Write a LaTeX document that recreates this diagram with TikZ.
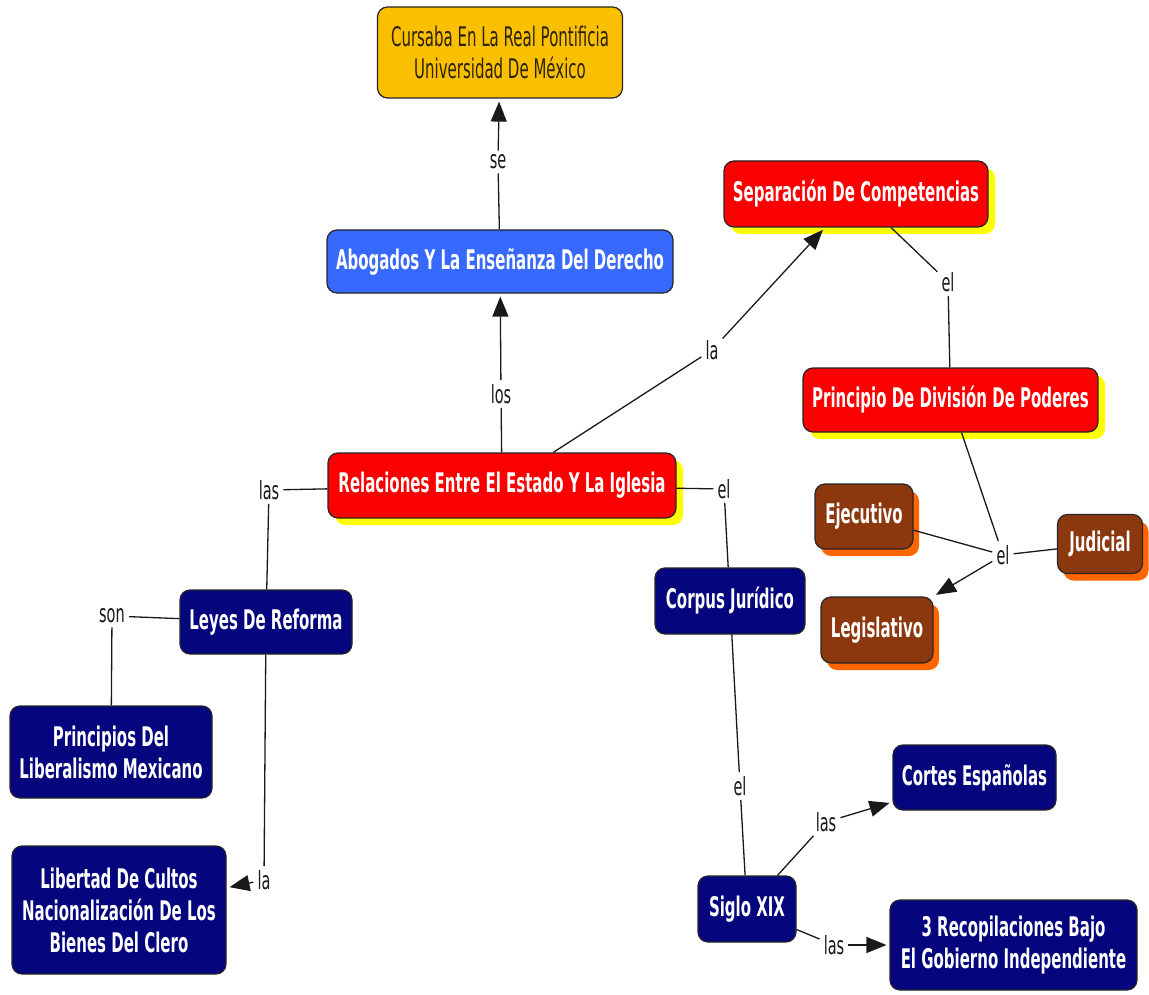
\documentclass[tikz,border=0pt]{standalone}
\usepackage{fontspec}
\newfontfamily\nfont{DejaVu Sans}[FakeStretch=0.555]
\newfontfamily\lfont{DejaVu Sans}[FakeStretch=0.58]
\usetikzlibrary{shadows,arrows.meta}
\definecolor{cgold}{RGB}{250,192,0}
\definecolor{cblue}{RGB}{55,105,255}
\definecolor{cred}{RGB}{250,0,0}
\definecolor{cyel}{RGB}{255,255,0}
\definecolor{cnavy}{RGB}{5,5,125}
\definecolor{cbrown}{RGB}{140,56,14}
\definecolor{corange}{RGB}{255,102,0}
\definecolor{cdark}{RGB}{45,35,10}
\begin{document}
\begin{tikzpicture}[x=1pt,y=-1pt,
  cbox/.style={rounded corners=10pt, draw=black!85, line width=1.2pt, align=center,
    font=\nfont\bfseries\fontsize{27}{32}\selectfont, text=white, inner sep=0pt},
  goldbox/.style={cbox, fill=cgold, text=cdark, font=\nfont\fontsize{27}{32}\selectfont},
  bluebox/.style={cbox, fill=cblue},
  navybox/.style={cbox, fill=cnavy},
  redbox/.style={cbox, fill=cred, drop shadow={shadow xshift=7pt, shadow yshift=-7pt, fill=cyel, opacity=1}},
  brownbox/.style={cbox, fill=cbrown, drop shadow={shadow xshift=6pt, shadow yshift=-7pt, fill=corange, opacity=1}},
  lab/.style={font=\lfont\fontsize{25}{27}\selectfont, inner sep=4pt, text=black!90},
  ln/.style={line width=1.3pt, draw=black!90},
  arr/.style={ln, -{Triangle[length=20pt,width=16pt]}, shorten >=3pt}]
\useasboundingbox[fill=white] (0,0) rectangle (1149,995);
% concepts
\node[goldbox, minimum width=245pt, minimum height=91pt] (cur) at (500,52.5) {Cursaba En La Real Pontificia\\Universidad De México};
\node[bluebox, minimum width=346pt, minimum height=63pt] (abo) at (500,261.5) {Abogados Y La Enseñanza Del Derecho};
\node[redbox, minimum width=264pt, minimum height=66pt] (sep) at (856,194) {Separación De Competencias};
\node[redbox, minimum width=295pt, minimum height=64pt] (pdp) at (950.5,400) {Principio De División De Poderes};
\node[redbox, minimum width=348pt, minimum height=65pt] (rel) at (502,485.5) {Relaciones Entre El Estado Y La Iglesia};
\node[brownbox, minimum width=98pt, minimum height=65pt] (eje) at (864,516.5) {Ejecutivo};
\node[brownbox, minimum width=85pt, minimum height=59pt] (jud) at (1100,544) {Judicial};
\node[brownbox, minimum width=112pt, minimum height=66pt] (leg) at (877,630) {Legislativo};
\node[navybox, minimum width=150pt, minimum height=66pt] (cor) at (730,601) {Corpus Jurídico};
\node[navybox, minimum width=172pt, minimum height=64pt] (ley) at (266,622) {Leyes De Reforma};
\node[navybox, minimum width=202pt, minimum height=92pt] (pri) at (111,752) {Principios Del\\Liberalismo Mexicano};
\node[navybox, minimum width=214pt, minimum height=128pt] (lib) at (119,910) {Libertad De Cultos\\Nacionalización De Los\\Bienes Del Clero};
\node[navybox, minimum width=98pt, minimum height=66pt] (sig) at (747,909) {Siglo XIX};
\node[navybox, minimum width=163pt, minimum height=65pt] (cortes) at (974.5,777.5) {Cortes Españolas};
\node[navybox, minimum width=247pt, minimum height=90pt] (rec) at (1013.5,945) {3 Recopilaciones Bajo\\El Gobierno Independiente};
% linking phrases
\node[lab] (se) at (498,162) {se};
\node[lab] (los) at (501,394) {los};
\node[lab] (la1) at (712,350) {la};
\node[lab] (el1) at (948,282) {el};
\node[lab] (el2) at (1003,555) {el};
\node[lab] (el3) at (724,489) {el};
\node[lab] (las1) at (269,490) {las};
\node[lab] (son) at (112,616) {son};
\node[lab] (la2) at (264,880) {la};
\node[lab] (el4) at (740,786) {el};
\node[lab] (las2) at (826,822) {las};
\node[lab] (las3) at (834,945) {las};
% connectors
\draw[ln] (abo) -- (se);
\draw[arr] (se) -- (cur);
\draw[ln] (rel) -- (los);
\draw[arr] (los) -- (abo);
\draw[ln] (rel) -- (la1);
\draw[arr] (la1) -- (sep);
\draw[ln] (sep) -- (el1);
\draw[ln] (el1) -- (pdp);
\draw[ln] (pdp) -- (el2);
\draw[ln] (eje) -- (el2);
\draw[ln] (jud) -- (el2);
\draw[arr] (el2) -- (leg);
\draw[ln] (rel) -- (el3);
\draw[ln] (el3) -- (cor);
\draw[ln] (rel) -- (las1);
\draw[ln] (las1) -- (ley);
\draw[ln] (ley) -- (son);
\draw[ln] (son) -- (pri);
\draw[ln] (ley) -- (la2);
\draw[arr] (la2) -- (lib);
\draw[ln] (cor) -- (el4);
\draw[ln] (el4) -- (sig);
\draw[ln] (sig) -- (las2);
\draw[arr] (las2) -- (cortes);
\draw[ln] (sig) -- (las3);
\draw[arr] (las3) -- (rec);
\end{tikzpicture}
\end{document}
